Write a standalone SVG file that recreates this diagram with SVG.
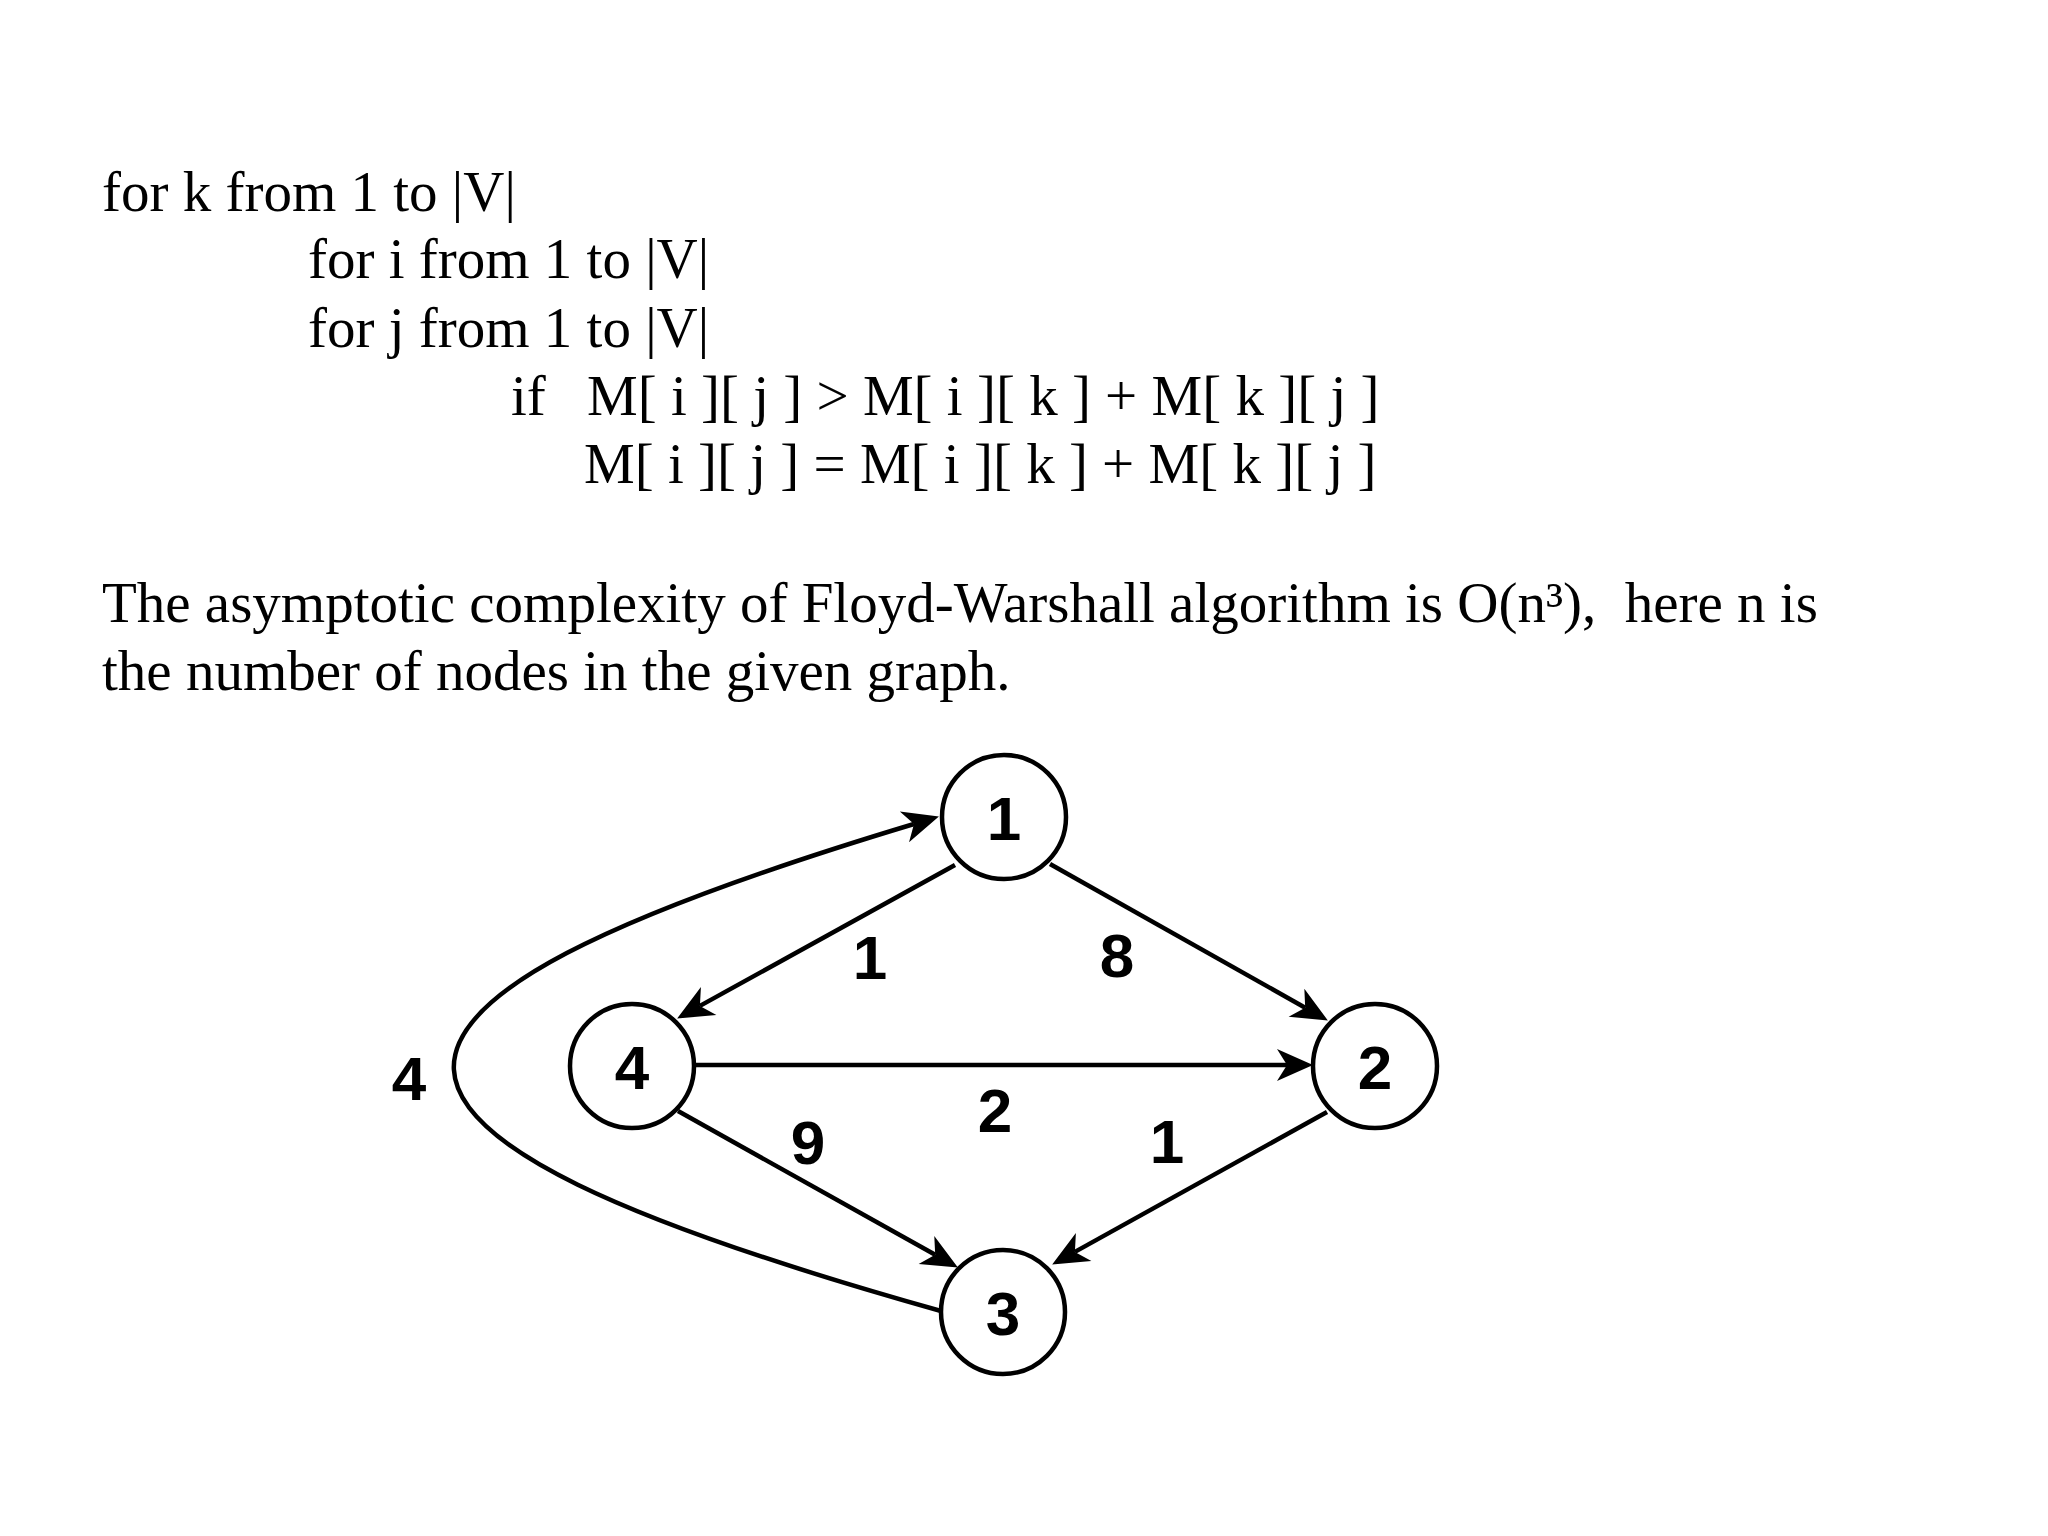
<svg xmlns="http://www.w3.org/2000/svg" width="2048" height="1536" viewBox="0 0 2048 1536">
<style>
.t{font-family:"Liberation Serif","Times New Roman",serif;font-size:57px;fill:#000}
.n{fill:#fff;stroke:#000;stroke-width:4.5}
.nl{font-family:"Liberation Sans",Arial,sans-serif;font-size:62px;font-weight:bold;fill:#000;text-anchor:middle}
.e{fill:none;stroke:#000;stroke-width:4.5}
</style>
<defs>
<marker id="ah" markerUnits="userSpaceOnUse" markerWidth="40" markerHeight="36" viewBox="0 -18 40 36" refX="9" refY="0" orient="auto" overflow="visible">
<path d="M-1,-16 L35,0 L-1,16 L9,0 Z" fill="#000"/>
</marker>
</defs>
<rect width="2048" height="1536" fill="#fff"/>
<g id="code">
<text class="t" x="102" y="211">for k from 1 to |V|</text>
<text class="t" x="308" y="278">for i from 1 to |V|</text>
<text class="t" x="308" y="347">for j from 1 to |V|</text>
<text class="t" x="511" y="415">if</text>
<text class="t" x="587" y="415">M[ i ][ j ] &gt; M[ i ][ k ] + M[ k ][ j ]</text>
<text class="t" x="584" y="483">M[ i ][ j ] = M[ i ][ k ] + M[ k ][ j ]</text>
</g>
<g id="paragraph">
<text class="t" x="102" y="622" xml:space="preserve">The asymptotic complexity of Floyd-Warshall algorithm is O(n³),  here n is</text>
<text class="t" x="102" y="690">the number of nodes in the given graph.</text>
</g>
<g id="connectors">
<path class="e" d="M955,865 L699.9,1005.9" marker-end="url(#ah)"/>
<path class="e" d="M1050,864 L1305.2,1007.7" marker-end="url(#ah)"/>
<path class="e" d="M693,1065 L1287,1065" marker-end="url(#ah)"/>
<path class="e" d="M678,1111 L935.2,1254.8" marker-end="url(#ah)"/>
<path class="e" d="M1327,1112 L1074.9,1251.9" marker-end="url(#ah)"/>
<path class="e" d="M941,1311 C296,1130 296,1010 914,824" marker-end="url(#ah)"/>
<text class="nl" x="870" y="979">1</text>
<text class="nl" x="1117" y="977">8</text>
<text class="nl" x="995" y="1132">2</text>
<text class="nl" x="1167" y="1163">1</text>
<text class="nl" x="808" y="1164">9</text>
<text class="nl" x="409" y="1100">4</text>
</g>
<g id="node1"><circle class="n" cx="1004" cy="817" r="62"/><text class="nl" x="1004" y="840">1</text></g>
<g id="node2"><circle class="n" cx="1375" cy="1066" r="62"/><text class="nl" x="1375" y="1089">2</text></g>
<g id="node3"><circle class="n" cx="1003" cy="1312" r="62"/><text class="nl" x="1003" y="1335">3</text></g>
<g id="node4"><circle class="n" cx="632" cy="1066" r="62"/><text class="nl" x="632" y="1089">4</text></g>
</svg>
